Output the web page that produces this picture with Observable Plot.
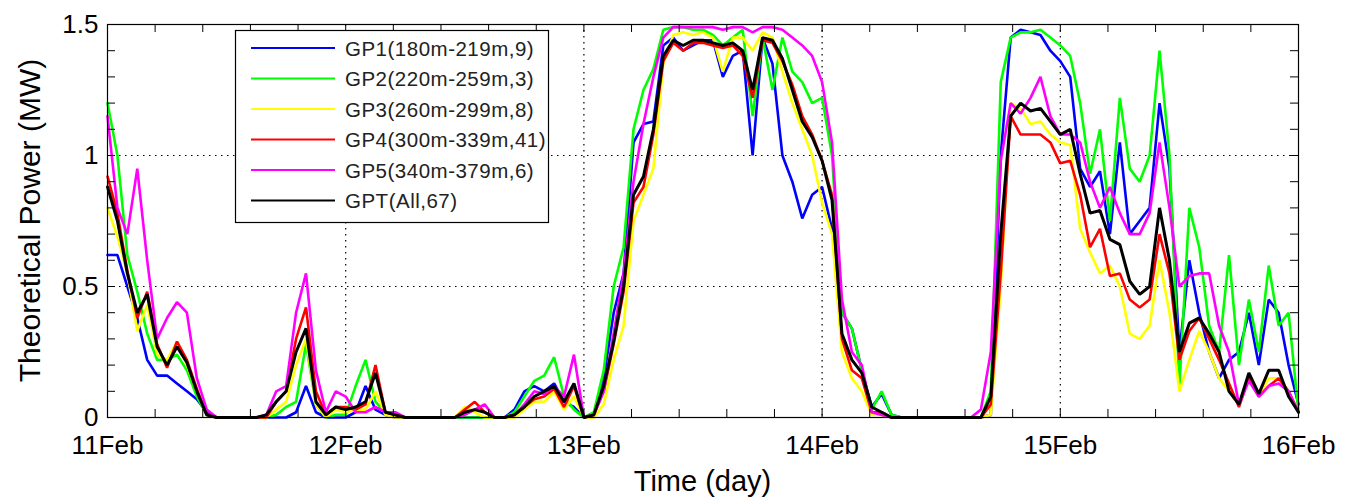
<!DOCTYPE html>
<html><head><meta charset="utf-8">
<script src="https://cdn.jsdelivr.net/npm/d3@7"></script>
<script src="https://cdn.jsdelivr.net/npm/@observablehq/plot@0.6"></script>
<style>body{margin:0;background:#fff} svg{display:block}</style>
</head><body><div id="chart"></div>
<script>
// ---- data (hourly samples, hours since 11 Feb 00:00) ----
const seriesNames = ["GP1(180m-219m,9)","GP2(220m-259m,3)","GP3(260m-299m,8)","GP4(300m-339m,41)","GP5(340m-379m,6)","GPT(All,67)"];
const dayLabels = ["11Feb","12Feb","13Feb","14Feb","15Feb","16Feb"];
const dayTicks = [0,1,2,3,4,5];
const yTickValues = [0,0.5,1,1.5];
const hours = d3.range(0,121);

const gp1 = [
0.62,0.62,0.50,0.38,0.22,0.16,0.16,0.13,0.10,0.07,0.02,0,0,0,0,0,0,0,0,0.02,0.12,0.02,0,0,
0,0.02,0.12,0.03,0.01,0, 0,0,0,0,0,0,0,0,0,0,0, 0.03,0.10,0.12,0.10,0.13,0.06,0.04,
0,0.01,0.15,0.40,0.55,1.05,1.12,1.13,1.42,1.45,1.40,1.42,1.44,1.44,1.30,1.38,1.40,1.00,1.45,1.35,1.00,0.90,0.76,0.85,
0.88,0.72,0.40,0.34,0.18,0.04,0.09,0.01, 0,0,0,0,0,0,0,0,0, 0.01, 1.00,1.45,1.48,1.47,1.46,1.40,
1.36,1.30,0.95,0.88,0.94,0.70,1.05,0.70,0.75,0.80,1.20,0.95,0.25,0.60,0.40,0.25,0.15,0.22,0.25,0.40,0.20,0.45,0.40,0.20,0.05];

const gp2 = [
1.20,1.00,0.62,0.48,0.32,0.22,0.22,0.24,0.18,0.08,0.01, 0,0,0,0,0, 0,0.01,0.04,0.06,0.28,0.05,0,0.01,
0.01,0.12,0.22,0.06,0.02,0.01, 0,0,0,0,0,0,0,0,0,0,0, 0.02,0.08,0.14,0.16,0.23,0.08,0.03,
0,0.02,0.18,0.50,0.65,1.10,1.25,1.33,1.48,1.49,1.49,1.48,1.48,1.46,1.42,1.45,1.48,1.15,1.45,1.25,1.45,1.32,1.28,1.20,
1.22,1.00,0.40,0.34,0.18,0.03,0.10,0.01, 0,0,0,0,0,0,0,0,0, 0.10, 1.28,1.45,1.47,1.47,1.48,1.45,
1.42,1.38,1.20,0.93,1.10,0.75,1.22,0.95,0.90,1.00,1.40,1.00,0.12,0.80,0.65,0.35,0.25,0.62,0.20,0.45,0.25,0.58,0.35,0.40,0.02];

const gp3 = [
0.80,0.69,0.55,0.33,0.43,0.24,0.22,0.29,0.20,0.10,0.01, 0,0,0,0,0, 0,0.03,0.06,0.20,0.30,0.05,0,0.03,
0.02,0.03,0.03,0.10,0.01,0, 0,0,0,0,0,0,0.04,0.02,0,0,0, 0,0.03,0.06,0.06,0.10,0.03,0.08,
0,0,0.05,0.22,0.35,0.75,0.85,0.95,1.35,1.46,1.47,1.46,1.47,1.45,1.32,1.45,1.45,1.40,1.47,1.45,1.32,1.20,1.10,1.00,
0.82,0.70,0.25,0.15,0.10,0.01,0.01,0, 0,0,0,0,0,0,0,0,0, 0.01, 0.50,1.20,1.18,1.12,1.13,1.08,
1.05,1.04,0.72,0.63,0.55,0.58,0.50,0.32,0.30,0.35,0.60,0.40,0.10,0.22,0.33,0.25,0.15,0.10,0.05,0.15,0.08,0.15,0.15,0.10,0.02];

const gp4 = [
0.92,0.78,0.56,0.38,0.48,0.28,0.19,0.29,0.22,0.11,0.01, 0,0,0,0,0, 0,0.06,0.10,0.30,0.42,0.10,0.01,0.04,
0.04,0.03,0.05,0.20,0.02,0.01, 0,0,0,0,0,0,0.03,0.06,0.02,0,0, 0.01,0.04,0.07,0.08,0.11,0.04,0.12,
0,0.01,0.10,0.28,0.48,0.82,0.88,1.08,1.36,1.43,1.40,1.43,1.43,1.42,1.41,1.42,1.38,1.22,1.44,1.43,1.36,1.27,1.15,1.08,
0.98,0.85,0.30,0.18,0.15,0.02,0.02,0, 0,0,0,0,0,0,0,0,0, 0.05, 0.55,1.15,1.08,1.08,1.08,1.05,
0.97,0.98,0.85,0.65,0.72,0.54,0.55,0.45,0.42,0.45,0.70,0.55,0.22,0.33,0.38,0.30,0.22,0.13,0.04,0.15,0.08,0.12,0.15,0.10,0.02];

const gp5 = [
1.15,0.80,0.70,0.95,0.60,0.30,0.38,0.44,0.40,0.15,0.03, 0,0,0,0,0, 0.01,0.10,0.12,0.40,0.55,0.18,0.02,0.10,
0.08,0.02,0.02,0.04,0.02,0.02, 0,0,0,0,0,0,0.01,0.03,0.05,0,0, 0.01,0.05,0.10,0.09,0.12,0.08,0.24,
0,0.01,0.10,0.32,0.55,0.90,1.12,1.30,1.45,1.49,1.49,1.49,1.49,1.49,1.48,1.49,1.49,1.47,1.49,1.49,1.48,1.45,1.42,1.38,
1.28,1.05,0.45,0.25,0.20,0.02,0.01,0, 0,0,0,0,0,0,0,0,0.03, 0.25, 0.98,1.20,1.16,1.22,1.30,1.15,
1.08,1.08,1.05,0.90,0.80,0.88,0.78,0.70,0.70,0.78,1.05,0.80,0.50,0.54,0.55,0.55,0.35,0.25,0.05,0.14,0.08,0.12,0.13,0.10,0.02];

const gpt = [
0.88,0.75,0.55,0.40,0.47,0.27,0.20,0.27,0.21,0.10,0.01, 0,0,0,0,0, 0.01,0.06,0.10,0.25,0.34,0.06,0.01,0.04,
0.03,0.04,0.06,0.17,0.02,0.01, 0,0,0,0,0,0,0.02,0.03,0.02,0,0, 0.01,0.04,0.08,0.10,0.12,0.06,0.13,
0,0.01,0.12,0.29,0.50,0.85,0.92,1.10,1.38,1.44,1.42,1.44,1.44,1.43,1.42,1.43,1.40,1.25,1.45,1.44,1.37,1.25,1.13,1.07,
0.98,0.83,0.32,0.22,0.17,0.04,0.02,0, 0,0,0,0,0,0,0,0,0, 0.08, 0.70,1.15,1.20,1.17,1.18,1.13,
1.08,1.10,0.93,0.78,0.79,0.68,0.66,0.52,0.47,0.50,0.80,0.60,0.25,0.36,0.38,0.32,0.25,0.10,0.05,0.17,0.09,0.18,0.18,0.08,0.02];

// ---- styling ----
const colors = ["#0000ff","#00ff00","#ffff00","#ff0000","#ff00ff","#000000"];
const font = "'Liberation Sans', Arial, Helvetica, sans-serif";
const W = 1351, H = 498, ML = 107, MR = 53, MT = 24, MB = 81;
const frameW = W - ML - MR, frameH = H - MT - MB;
const tickLen = 8;

const allSeries = [gp1, gp2, gp3, gp4, gp5, gpt];
const rows = allSeries.flatMap((s, k) => s.map((v, i) => ({t: hours[i] / 24, v, name: seriesNames[k]})));
const colorRows = rows.filter(d => d.name !== seriesNames[5]);
const blackRows = rows.filter(d => d.name === seriesNames[5]);
const minorX = d3.range(0, 5.0001, 0.2);
const minorY = d3.range(0, 1.5001, 0.1);

const plot = Plot.plot({
  width: W, height: H,
  marginLeft: ML, marginRight: MR, marginTop: MT, marginBottom: MB,
  style: {fontFamily: font, background: "#fff", color: "#000"},
  x: {domain: [0, 5]},
  y: {domain: [0, 1.5]},
  color: {domain: seriesNames, range: colors},
  marks: [
    Plot.ruleX([1, 2, 3, 4], {stroke: "#000", strokeWidth: 1.2, strokeDasharray: "1.5,4.5"}),
    Plot.ruleY([0.5, 1], {stroke: "#000", strokeWidth: 1.2, strokeDasharray: "1.5,4.5"}),
    Plot.line(colorRows, {x: "t", y: "v", z: "name", stroke: "name", strokeWidth: 2.6, strokeLinejoin: "miter"}),
    Plot.line(blackRows, {x: "t", y: "v", z: "name", stroke: "name", strokeWidth: 3, strokeLinejoin: "miter"}),
    Plot.tickX(minorX, {x: d => d, insetTop: frameH - tickLen, stroke: "#000", strokeWidth: 1}),
    Plot.tickX(minorX, {x: d => d, insetBottom: frameH - tickLen, stroke: "#000", strokeWidth: 1}),
    Plot.tickY(minorY, {y: d => d, insetRight: frameW - tickLen, stroke: "#000", strokeWidth: 1}),
    Plot.tickY(minorY, {y: d => d, insetLeft: frameW - tickLen, stroke: "#000", strokeWidth: 1}),
    Plot.frame({stroke: "#000", strokeWidth: 1.2}),
    Plot.axisX(dayTicks, {tickSize: 0, tickPadding: 18, fontSize: 26, label: null,
      tickFormat: d => dayLabels[Math.round(d)]}),
    Plot.axisY(yTickValues, {tickSize: 0, tickPadding: 9, fontSize: 26, label: null,
      tickFormat: d => String(d)})
  ]
});

const svg = d3.select(plot);
svg.append("text")
  .attr("x", ML + frameW / 2).attr("y", 481)
  .attr("text-anchor", "middle").attr("dominant-baseline", "central")
  .attr("font-size", 29).attr("font-family", font).attr("fill", "#000")
  .text("Time (day)");
svg.append("text")
  .attr("transform", `translate(29,${MT + frameH / 2}) rotate(-90)`)
  .attr("text-anchor", "middle").attr("dominant-baseline", "central")
  .attr("font-size", 30).attr("font-family", font).attr("fill", "#000")
  .text("Theoretical Power (MW)");

// legend
const lg = svg.append("g");
lg.append("rect").attr("x", 235.5).attr("y", 30.5).attr("width", 313).attr("height", 192)
  .attr("fill", "#fff").attr("stroke", "#000").attr("stroke-width", 1.2);
seriesNames.forEach((n, i) => {
  const y = 48 + i * 30.5;
  lg.append("line").attr("x1", 251).attr("x2", 335).attr("y1", y).attr("y2", y)
    .attr("stroke", colors[i]).attr("stroke-width", 2.2);
  lg.append("text").attr("x", 345).attr("y", y).attr("dominant-baseline", "central")
    .attr("text-anchor", "start").attr("letter-spacing", 0.5)
    .attr("font-size", 20.5).attr("font-family", font).attr("fill", "#222").text(n);
});

document.getElementById("chart").appendChild(plot);
</script>
</body></html>
